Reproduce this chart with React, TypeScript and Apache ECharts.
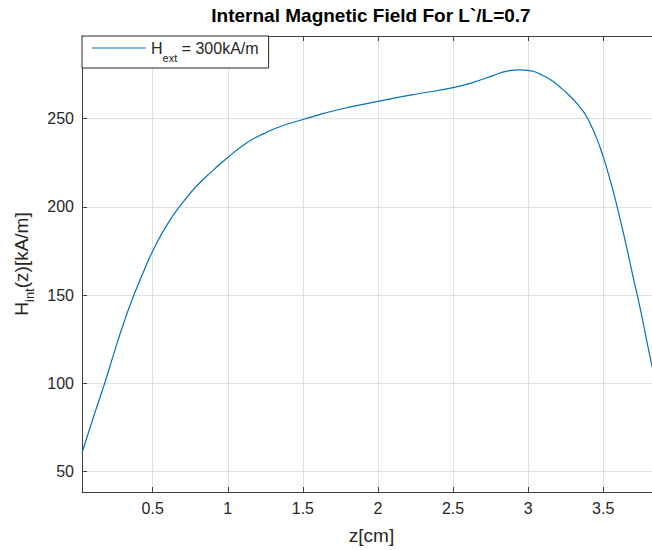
import React, { useEffect, useRef } from 'react';
import * as echarts from 'echarts';

const titleText = 'Internal Magnetic Field For L`/L=0.7';
const seriesName = 'H_ext = 300kA/m';
const xTicks = [0.5, 1, 1.5, 2, 2.5, 3, 3.5];
const yTicks = [50, 100, 150, 200, 250];

// z [cm]
const zValues = [
  0.029, 0.1, 0.18, 0.24, 0.3, 0.37, 0.44, 0.5, 0.6, 0.7, 0.8, 0.9, 1.0, 1.13,
  1.24, 1.35, 1.5, 1.6, 1.7, 1.8, 2.0, 2.25, 2.5, 2.64, 2.77, 2.86, 2.94, 3.02,
  3.08, 3.15, 3.21, 3.27, 3.33, 3.4, 3.48, 3.55, 3.593, 3.65, 3.7, 3.75, 3.79, 3.83, 3.87,
];
// H_int(z) [kA/m]
const hValues = [
  60.5, 79.5, 100, 116.5, 132.5, 149, 163.5, 175, 190.5, 202.5, 212.5, 220.5, 228, 236.5,
  241.5, 245.5, 249.5, 252, 254.3, 256.3, 259.8, 263.8, 267.5, 270.7, 274.5, 276.9, 277.6, 277,
  275.2, 272, 268, 263.5, 258, 249.5, 233.5, 214, 200, 179.4, 160, 141, 124, 108, 92,
];

export default function App() {
  const ref = useRef<HTMLDivElement>(null);
  useEffect(() => {
    const chart = echarts.init(ref.current!, null, { renderer: 'svg' });
    const font = "'Liberation Sans', Arial, Helvetica, sans-serif";
    const textColor = '#262626';
    const axisColor = '#404040';
    const gridColor = '#dfdfdf';
    const data = zValues.map((z, i) => [z, hValues[i]]);
    chart.setOption({
      animation: false,
      backgroundColor: '#ffffff',
      textStyle: { fontFamily: font },
      title: {
        text: titleText,
        left: 371,
        top: 6,
        textAlign: 'center',
        padding: 0,
        textStyle: { fontFamily: font, fontSize: 19, fontWeight: 'bold', color: '#000' },
      },
      legend: {
        left: 82,
        top: 36,
        padding: [4, 10, 4, 10],
        icon: 'rect',
        itemWidth: 54,
        itemHeight: 1.2,
        backgroundColor: '#fff',
        borderColor: '#262626',
        borderWidth: 1,
        borderRadius: 0,
        formatter: '{a|H}{b|ext}{a| = 300kA/m}',
        textStyle: {
          fontFamily: font,
          color: textColor,
          rich: {
            a: { fontFamily: font, fontSize: 16, lineHeight: 16, verticalAlign: 'top', color: textColor },
            b: { fontFamily: font, fontSize: 11, lineHeight: 11, padding: [13, 0, 0, 0], verticalAlign: 'top', color: textColor },
          },
        },
      },
      grid: { left: 82, top: 36, right: 0, bottom: 57, containLabel: false },
      xAxis: [
        {
          type: 'value',
          min: 0.029,
          max: 3.885,
          name: 'z[cm]',
          nameLocation: 'middle',
          nameGap: 34,
          nameTextStyle: { fontFamily: font, fontSize: 19, color: textColor },
          axisLine: { show: true, lineStyle: { color: axisColor, width: 1 } },
          axisTick: { show: true, inside: true, length: 5, customValues: xTicks, lineStyle: { color: axisColor } },
          axisLabel: { customValues: xTicks, margin: 8, fontFamily: font, fontSize: 16, color: textColor },
          splitLine: { show: true, lineStyle: { color: gridColor, width: 1 } },
        },
        {
          type: 'value',
          position: 'top',
          min: 0.029,
          max: 3.885,
          axisLine: { show: true, lineStyle: { color: axisColor, width: 1 } },
          axisTick: { show: true, inside: true, length: 5, customValues: xTicks, lineStyle: { color: axisColor } },
          axisLabel: { show: false },
          splitLine: { show: false },
        },
      ],
      yAxis: {
        type: 'value',
        min: 38.4,
        max: 296.8,
        name: '{a|H}{b|int}{a|(z)[kA/m]}',
        nameLocation: 'middle',
        nameGap: 44,
        nameTextStyle: {
          fontFamily: font,
          color: textColor,
          rich: {
            a: { fontFamily: font, fontSize: 19, lineHeight: 19, verticalAlign: 'top', color: textColor },
            b: { fontFamily: font, fontSize: 13, lineHeight: 13, padding: [11, 0, 0, 0], verticalAlign: 'top', color: textColor },
          },
        },
        axisLine: { show: true, lineStyle: { color: axisColor, width: 1 } },
        axisTick: { show: true, inside: true, length: 5, customValues: yTicks, lineStyle: { color: axisColor } },
        axisLabel: { customValues: yTicks, margin: 8, fontFamily: font, fontSize: 16, color: textColor },
        splitLine: { show: true, lineStyle: { color: gridColor, width: 1 } },
      },
      series: [
        {
          name: seriesName,
          type: 'line',
          data,
          symbol: 'none',
          smooth: 0.5,
          lineStyle: { color: '#0072BD', width: 1.2 },
          itemStyle: { color: '#0072BD' },
        },
      ],
    });
    return () => chart.dispose();
  }, []);
  return (
    <div
      style={{ position: 'fixed', left: 0, top: 0, width: 652, height: 550, overflow: 'hidden', background: '#fff' }}
    >
      <div ref={ref} style={{ width: 661, height: 550 }} />
    </div>
  );
}
